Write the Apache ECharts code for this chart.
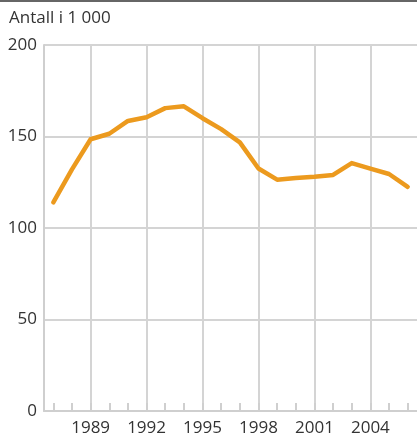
<!DOCTYPE html>
<html>
<head>
<meta charset="utf-8">
<script src="https://cdn.jsdelivr.net/npm/echarts@6/dist/echarts.min.js"></script>
<style>html,body{margin:0;padding:0;background:#fff}#c{width:417px;height:437px}</style>
</head>
<body>
<div id="c"></div>
<script>
var years = ['1987','1988','1989','1990','1991','1992','1993','1994','1995','1996','1997','1998','1999','2000','2001','2002','2003','2004','2005','2006'];
var values = [114, 132, 148.5, 151.5, 158.5, 160.5, 165.5, 166.5, 160, 154, 146.8, 132.5, 126.4, 127.3, 128, 129, 135.5, 132.4, 129.5, 122.5];
var yTicks = [0, 50, 100, 150, 200];
var unitLabel = 'Antall i 1 000';

var font = '"Open Sans", sans-serif';
var showYear = function (i, v) { return (parseInt(v, 10) - 1989) % 3 === 0; };
var chart = echarts.init(document.getElementById('c'));
chart.setOption({
  animation: false,
  grid: { left: 44, top: 45, width: 375.5, bottom: 25, containLabel: false },
  graphic: [
    { type: 'rect', left: 0, top: 0, shape: { width: 417, height: 2 }, style: { fill: '#666' } },
    { type: 'text', left: 9, top: 10, style: { text: unitLabel, fill: '#333', font: '17px ' + font } }
  ],
  xAxis: {
    type: 'category',
    data: years,
    boundaryGap: true,
    axisLine: { lineStyle: { color: '#cfcfcf', width: 2 } },
    axisTick: { show: true, alignWithLabel: true, interval: 0, inside: true, length: 8, lineStyle: { color: '#cfcfcf', width: 2 } },
    axisLabel: { interval: showYear, color: '#333', fontSize: 17, fontFamily: font, margin: 9 },
    splitLine: { show: true, alignWithLabel: true, interval: showYear, lineStyle: { color: '#d4d4d4', width: 2 } }
  },
  yAxis: {
    type: 'value',
    min: yTicks[0],
    max: yTicks[yTicks.length - 1],
    interval: 50,
    axisLine: { show: true, lineStyle: { color: '#cfcfcf', width: 2 } },
    axisTick: { show: false },
    axisLabel: { color: '#333', fontSize: 17, fontFamily: font, margin: 7 },
    splitLine: { show: true, lineStyle: { color: '#d4d4d4', width: 2 } }
  },
  series: [{
    type: 'line',
    data: values,
    symbol: 'none',
    lineStyle: { color: '#EC9A1E', width: 4.5, cap: 'round', join: 'round' }
  }]
});
</script>
</body>
</html>
